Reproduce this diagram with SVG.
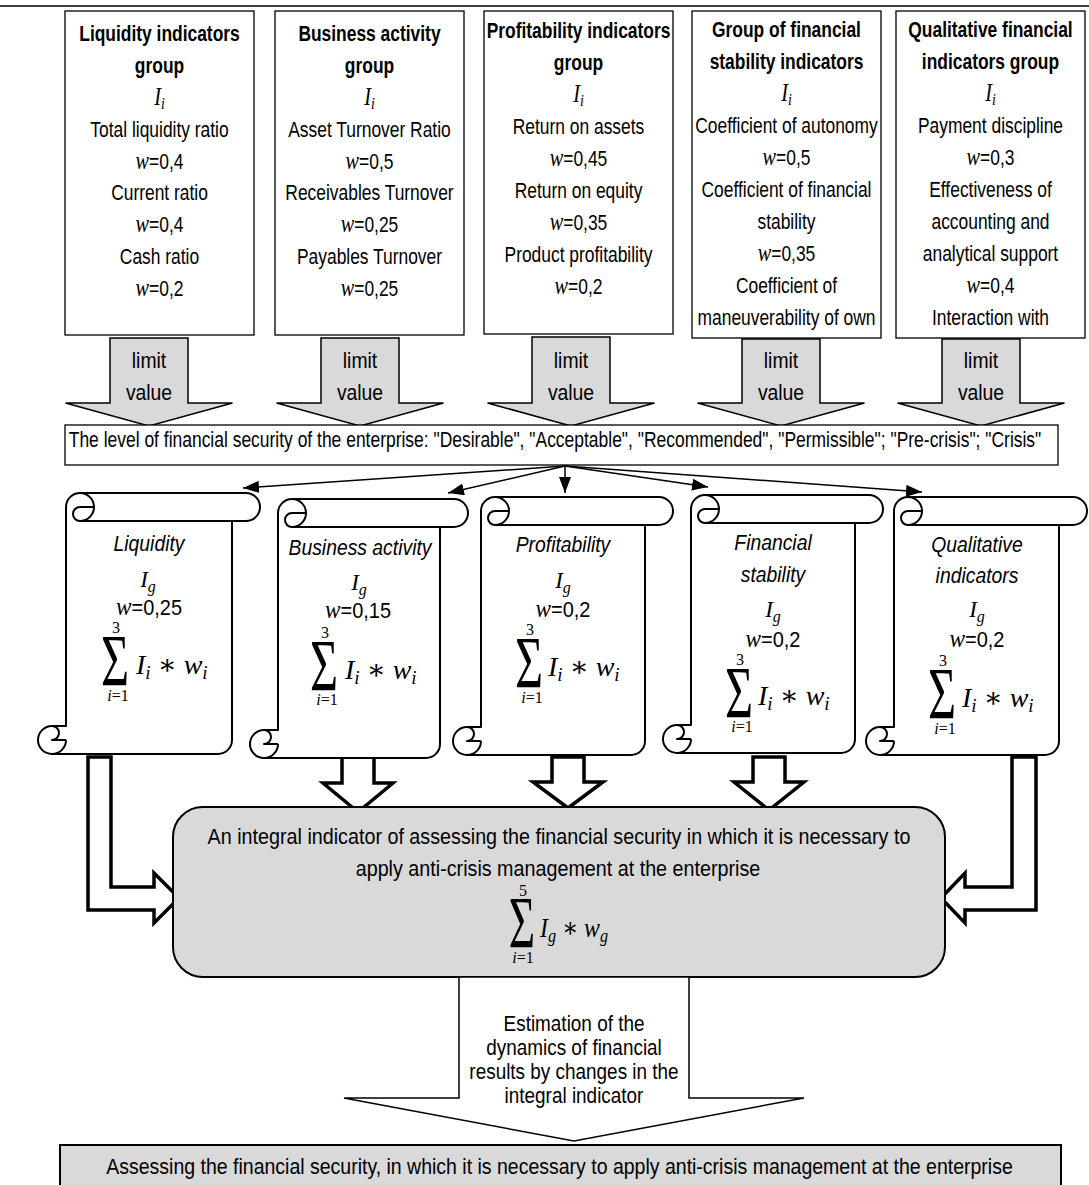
<svg xmlns="http://www.w3.org/2000/svg" width="1089" height="1185" viewBox="0 0 1089 1185">
<defs>
<marker id="ah" markerWidth="16" markerHeight="12" refX="16" refY="6" orient="auto" markerUnits="userSpaceOnUse"><path d="M0,0 L16,6 L0,12 Z" fill="#000"/></marker>
<style>
.box{fill:#fff;stroke:#000;stroke-width:1.3}
.limit{fill:#d9d9d9;stroke:#000;stroke-width:1.5;stroke-linejoin:miter}
.scroll{fill:#fff;stroke:#000;stroke-width:2;stroke-linejoin:round}
.hollow{fill:#fff;stroke:#000;stroke-width:3.5;stroke-linejoin:miter}
.gray{fill:#d9d9d9;stroke:#000;stroke-width:2}
.big{fill:#fff;stroke:#000;stroke-width:1.5}
.conn{stroke:#000;stroke-width:1.5;fill:none;marker-end:url(#ah)}
text{fill:#000}
.s{font-family:'Liberation Sans',Arial,sans-serif;font-size:21.5px;text-anchor:middle}
.b{font-weight:bold}
.i{font-style:italic}
.m{font-family:'Liberation Serif','Times New Roman','DejaVu Serif',serif;font-style:italic;text-anchor:middle}
.st{text-anchor:start}
.u{font-family:'Liberation Serif','Times New Roman',serif;text-anchor:middle}
.mi{font-family:'Liberation Serif','Times New Roman',serif;font-style:italic;font-size:25px}
</style>
</defs>
<rect width="1089" height="1185" fill="#fff"/>
<line x1="0" y1="6" x2="1089" y2="6" stroke="#000" stroke-width="1.5"/>

<g id="box-liquidity">
<rect class="box" x="65" y="11" width="189" height="324"/>
<g transform="translate(159.5,0) scale(0.81,1)">
<text class="s b" y="41">Liquidity indicators</text>
<text class="s b" y="73">group</text>
<text class="m" y="105" font-size="25">I<tspan font-size="17" dy="4">i</tspan></text>
<text class="s" y="137">Total liquidity ratio</text>
<text class="s" y="168.6"><tspan class="mi">w</tspan>=0,4</text>
<text class="s" y="200.5">Current ratio</text>
<text class="s" y="232.4"><tspan class="mi">w</tspan>=0,4</text>
<text class="s" y="264.3">Cash ratio</text>
<text class="s" y="296.2"><tspan class="mi">w</tspan>=0,2</text>
</g>
</g>

<g id="box-business">
<rect class="box" x="275" y="11" width="189" height="324"/>
<g transform="translate(369.5,0) scale(0.81,1)">
<text class="s b" y="41">Business activity</text>
<text class="s b" y="73">group</text>
<text class="m" y="105" font-size="25">I<tspan font-size="17" dy="4">i</tspan></text>
<text class="s" y="137">Asset Turnover Ratio</text>
<text class="s" y="168.6"><tspan class="mi">w</tspan>=0,5</text>
<text class="s" y="200.5">Receivables Turnover</text>
<text class="s" y="232.4"><tspan class="mi">w</tspan>=0,25</text>
<text class="s" y="264.3">Payables Turnover</text>
<text class="s" y="296.2"><tspan class="mi">w</tspan>=0,25</text>
</g>
</g>

<g id="box-profitability">
<rect class="box" x="484" y="11" width="189" height="323"/>
<g transform="translate(578.5,0) scale(0.81,1)">
<text class="s b" y="38">Profitability indicators</text>
<text class="s b" y="70">group</text>
<text class="m" y="102" font-size="25">I<tspan font-size="17" dy="4">i</tspan></text>
<text class="s" y="134">Return on assets</text>
<text class="s" y="166"><tspan class="mi">w</tspan>=0,45</text>
<text class="s" y="198">Return on equity</text>
<text class="s" y="230"><tspan class="mi">w</tspan>=0,35</text>
<text class="s" y="262">Product profitability</text>
<text class="s" y="294"><tspan class="mi">w</tspan>=0,2</text>
</g>
</g>

<g id="box-stability">
<rect class="box" x="692" y="11" width="189" height="327"/>
<g transform="translate(786.5,0) scale(0.81,1)">
<text class="s b" y="37">Group of financial</text>
<text class="s b" y="69">stability indicators</text>
<text class="m" y="101" font-size="25">I<tspan font-size="17" dy="4">i</tspan></text>
<text class="s" y="133">Coefficient of autonomy</text>
<text class="s" y="165"><tspan class="mi">w</tspan>=0,5</text>
<text class="s" y="197">Coefficient of financial</text>
<text class="s" y="229">stability</text>
<text class="s" y="261"><tspan class="mi">w</tspan>=0,35</text>
<text class="s" y="293">Coefficient of</text>
<text class="s" y="325">maneuverability of own</text>
</g>
</g>

<g id="box-qualitative">
<rect class="box" x="896" y="11" width="189" height="327"/>
<g transform="translate(990.5,0) scale(0.81,1)">
<text class="s b" y="37">Qualitative financial</text>
<text class="s b" y="69">indicators group</text>
<text class="m" y="101" font-size="25">I<tspan font-size="17" dy="4">i</tspan></text>
<text class="s" y="133">Payment discipline</text>
<text class="s" y="165"><tspan class="mi">w</tspan>=0,3</text>
<text class="s" y="197">Effectiveness of</text>
<text class="s" y="229">accounting and</text>
<text class="s" y="261">analytical support</text>
<text class="s" y="293"><tspan class="mi">w</tspan>=0,4</text>
<text class="s" y="325">Interaction with</text>
</g>
</g>

<g id="limit-arrows">
<g id="limit-1"><polygon class="limit" points="110,338 188,338 188,403 232.5,403 149,426 65.5,403 110,403"/>
<g transform="translate(149,0) scale(0.9,1)"><text class="s" y="368" font-size="21.5">limit</text><text class="s" y="400" font-size="21.5">value</text></g></g>
<g id="limit-2"><polygon class="limit" points="321,338 399,338 399,403 443.5,403 360,426 276.5,403 321,403"/>
<g transform="translate(360,0) scale(0.9,1)"><text class="s" y="368" font-size="21.5">limit</text><text class="s" y="400" font-size="21.5">value</text></g></g>
<g id="limit-3"><polygon class="limit" points="532,337 610,337 610,403 654.5,403 571,426 487.5,403 532,403"/>
<g transform="translate(571,0) scale(0.9,1)"><text class="s" y="368" font-size="21.5">limit</text><text class="s" y="400" font-size="21.5">value</text></g></g>
<g id="limit-4"><polygon class="limit" points="742,339 820,339 820,403 864.5,403 781,426 697.5,403 742,403"/>
<g transform="translate(781,0) scale(0.9,1)"><text class="s" y="368" font-size="21.5">limit</text><text class="s" y="400" font-size="21.5">value</text></g></g>
<g id="limit-5"><polygon class="limit" points="942,339 1020,339 1020,403 1064.5,403 981,426 897.5,403 942,403"/>
<g transform="translate(981,0) scale(0.9,1)"><text class="s" y="368" font-size="21.5">limit</text><text class="s" y="400" font-size="21.5">value</text></g></g>
</g>

<g id="level">
<rect class="box" x="65" y="425" width="993" height="40"/>
<text class="s" transform="translate(555,447) scale(0.812,1)" font-size="21">The level of financial security of the enterprise: "Desirable", "Acceptable", "Recommended", "Permissible"; "Pre-crisis"; "Crisis"</text>
</g>

<g id="connectors">
<line class="conn" x1="565" y1="466" x2="243" y2="488"/>
<line class="conn" x1="565" y1="466" x2="448" y2="493"/>
<line class="conn" x1="565" y1="466" x2="565" y2="493"/>
<line class="conn" x1="565" y1="466" x2="708" y2="487"/>
<line class="conn" x1="565" y1="466" x2="922" y2="492"/>
<polygon class="hollow" points="88,757 111,757 111,887 154,887 154,873 179,898 154,923 154,910 88,910"/>
<polygon class="hollow" points="1012,757 1036,757 1036,910 965,910 965,923 941,898 965,873 965,887 1012,887"/>
<polygon class="hollow" points="342,757 374,757 374,783 393,783 358,812 323,783 342,783"/>
<polygon class="hollow" points="552,757 584,757 584,782 603,782 568,808 533,782 552,782"/>
<polygon class="hollow" points="753,757 785,757 785,782 804,782 769,810 734,782 753,782"/>
</g>

<g id="scroll-liquidity">
<path class="scroll" transform="translate(38,493)" d="M28,233 L28,14 A14,14 0 0 1 42,0 L208,0 A14,14 0 0 1 208,28 L194,28 L194,247 A14,14 0 0 1 180,261 L14,261 A14,14 0 0 1 14,233 Z M42,0 A14,14 0 0 1 42,28 A7,7 0 0 1 42,14 L56,14 M194,28 L42,28 M14,233 A7,7 0 0 1 14,247 L28,247 M14,261 A14,14 0 0 0 28,247"/>
<text class="s i" transform="translate(149,551) scale(0.9,1)" font-size="21.5">Liquidity</text>
<text class="m" x="148" y="587" font-size="23">I<tspan font-size="16" dy="5">g</tspan></text>
<text class="s" transform="translate(149,615) scale(0.93,1)" font-size="22"><tspan class="mi" font-size="26">w</tspan>=0,25</text>
<text class="u" x="116" y="633" font-size="16">3</text>
<text class="u" transform="translate(115,686) scale(0.66,1)" font-size="73">Σ</text>
<text class="m st" x="136" y="674" font-size="28">I<tspan font-size="19" dy="5">i</tspan><tspan dy="-5"> ∗ </tspan>w<tspan font-size="19" dy="5">i</tspan></text>
<text class="u" x="118" y="701" font-size="16"><tspan font-style="italic">i</tspan>=1</text>
</g>

<g id="scroll-business">
<path class="scroll" transform="translate(250,499)" d="M28,231 L28,14 A14,14 0 0 1 42,0 L204,0 A14,14 0 0 1 204,28 L190,28 L190,245 A14,14 0 0 1 176,259 L14,259 A14,14 0 0 1 14,231 Z M42,0 A14,14 0 0 1 42,28 A7,7 0 0 1 42,14 L56,14 M190,28 L42,28 M14,231 A7,7 0 0 1 14,245 L28,245 M14,259 A14,14 0 0 0 28,245"/>
<text class="s i" transform="translate(360,555) scale(0.9,1)" font-size="21.5">Business activity</text>
<text class="m" x="359" y="590" font-size="23">I<tspan font-size="16" dy="5">g</tspan></text>
<text class="s" transform="translate(358,618) scale(0.93,1)" font-size="22"><tspan class="mi" font-size="26">w</tspan>=0,15</text>
<text class="u" x="325" y="638" font-size="16">3</text>
<text class="u" transform="translate(324,691) scale(0.66,1)" font-size="73">Σ</text>
<text class="m st" x="345" y="679" font-size="28">I<tspan font-size="19" dy="5">i</tspan><tspan dy="-5"> ∗ </tspan>w<tspan font-size="19" dy="5">i</tspan></text>
<text class="u" x="327" y="705" font-size="16"><tspan font-style="italic">i</tspan>=1</text>
</g>

<g id="scroll-profitability">
<path class="scroll" transform="translate(453,497)" d="M28,230 L28,14 A14,14 0 0 1 42,0 L206,0 A14,14 0 0 1 206,28 L192,28 L192,244 A14,14 0 0 1 178,258 L14,258 A14,14 0 0 1 14,230 Z M42,0 A14,14 0 0 1 42,28 A7,7 0 0 1 42,14 L56,14 M192,28 L42,28 M14,230 A7,7 0 0 1 14,244 L28,244 M14,258 A14,14 0 0 0 28,244"/>
<text class="s i" transform="translate(563,552) scale(0.9,1)" font-size="21.5">Profitability</text>
<text class="m" x="563" y="588" font-size="23">I<tspan font-size="16" dy="5">g</tspan></text>
<text class="s" transform="translate(563,617) scale(0.93,1)" font-size="22"><tspan class="mi" font-size="26">w</tspan>=0,2</text>
<text class="u" x="530" y="635" font-size="16">3</text>
<text class="u" transform="translate(529,688) scale(0.66,1)" font-size="73">Σ</text>
<text class="m st" x="548" y="676" font-size="28">I<tspan font-size="19" dy="5">i</tspan><tspan dy="-5"> ∗ </tspan>w<tspan font-size="19" dy="5">i</tspan></text>
<text class="u" x="532" y="703" font-size="16"><tspan font-style="italic">i</tspan>=1</text>
</g>

<g id="scroll-stability">
<path class="scroll" transform="translate(663,495)" d="M28,230 L28,14 A14,14 0 0 1 42,0 L206,0 A14,14 0 0 1 206,28 L192,28 L192,244 A14,14 0 0 1 178,258 L14,258 A14,14 0 0 1 14,230 Z M42,0 A14,14 0 0 1 42,28 A7,7 0 0 1 42,14 L56,14 M192,28 L42,28 M14,230 A7,7 0 0 1 14,244 L28,244 M14,258 A14,14 0 0 0 28,244"/>
<text class="s i" transform="translate(773,550) scale(0.9,1)" font-size="21.5">Financial</text>
<text class="s i" transform="translate(773,582) scale(0.9,1)" font-size="21.5">stability</text>
<text class="m" x="773" y="617" font-size="23">I<tspan font-size="16" dy="5">g</tspan></text>
<text class="s" transform="translate(773,647) scale(0.93,1)" font-size="22"><tspan class="mi" font-size="26">w</tspan>=0,2</text>
<text class="u" x="740" y="665" font-size="16">3</text>
<text class="u" transform="translate(739,718) scale(0.66,1)" font-size="73">Σ</text>
<text class="m st" x="758" y="705" font-size="28">I<tspan font-size="19" dy="5">i</tspan><tspan dy="-5"> ∗ </tspan>w<tspan font-size="19" dy="5">i</tspan></text>
<text class="u" x="742" y="732" font-size="16"><tspan font-style="italic">i</tspan>=1</text>
</g>

<g id="scroll-qualitative">
<path class="scroll" transform="translate(866,497)" d="M28,230 L28,14 A14,14 0 0 1 42,0 L207,0 A14,14 0 0 1 207,28 L193,28 L193,244 A14,14 0 0 1 179,258 L14,258 A14,14 0 0 1 14,230 Z M42,0 A14,14 0 0 1 42,28 A7,7 0 0 1 42,14 L56,14 M193,28 L42,28 M14,230 A7,7 0 0 1 14,244 L28,244 M14,258 A14,14 0 0 0 28,244"/>
<text class="s i" transform="translate(977,552) scale(0.9,1)" font-size="21.5">Qualitative</text>
<text class="s i" transform="translate(977,583) scale(0.9,1)" font-size="21.5">indicators</text>
<text class="m" x="977" y="617" font-size="23">I<tspan font-size="16" dy="5">g</tspan></text>
<text class="s" transform="translate(977,647) scale(0.93,1)" font-size="22"><tspan class="mi" font-size="26">w</tspan>=0,2</text>
<text class="u" x="943" y="666" font-size="16">3</text>
<text class="u" transform="translate(942,719) scale(0.66,1)" font-size="73">Σ</text>
<text class="m st" x="962" y="707" font-size="28">I<tspan font-size="19" dy="5">i</tspan><tspan dy="-5"> ∗ </tspan>w<tspan font-size="19" dy="5">i</tspan></text>
<text class="u" x="945" y="734" font-size="16"><tspan font-style="italic">i</tspan>=1</text>
</g>

<g id="integral">
<rect class="gray" x="173" y="807" width="772" height="170" rx="30" ry="30"/>
<text class="s" transform="translate(559,844) scale(0.918,1)" font-size="22">An integral indicator of assessing the financial security in which it is necessary to</text>
<text class="s" transform="translate(558,876) scale(0.918,1)" font-size="22">apply anti-crisis management at the enterprise</text>
<text class="u" x="523" y="896" font-size="16">5</text>
<text class="u" transform="translate(522,948) scale(0.62,1)" font-size="73">Σ</text>
<text class="m st" transform="translate(540,937) scale(0.85,1)" font-size="28">I<tspan font-size="19" dy="5">g</tspan><tspan dy="-5"> ∗ </tspan>w<tspan font-size="19" dy="5">g</tspan></text>
<text class="u" x="523" y="963" font-size="16"><tspan font-style="italic">i</tspan>=1</text>
</g>

<g id="estimation-arrow">
<polygon class="big" points="459,977 689,977 689,1098 804,1098 574,1141 344,1098 459,1098"/>
<g transform="translate(574,0) scale(0.88,1)">
<text class="s" y="1031" font-size="19.5">Estimation of the</text>
<text class="s" y="1055" font-size="19.5">dynamics of financial</text>
<text class="s" y="1079" font-size="19.5">results by changes in the</text>
<text class="s" y="1103" font-size="19.5">integral indicator</text>
</g>
</g>

<g id="final">
<rect class="gray" x="60" y="1145" width="1001" height="44"/>
<text class="s" transform="translate(559.5,1174) scale(0.907,1)" font-size="23.2">Assessing the financial security, in which it is necessary to apply anti-crisis management at the enterprise</text>
</g>
</svg>
